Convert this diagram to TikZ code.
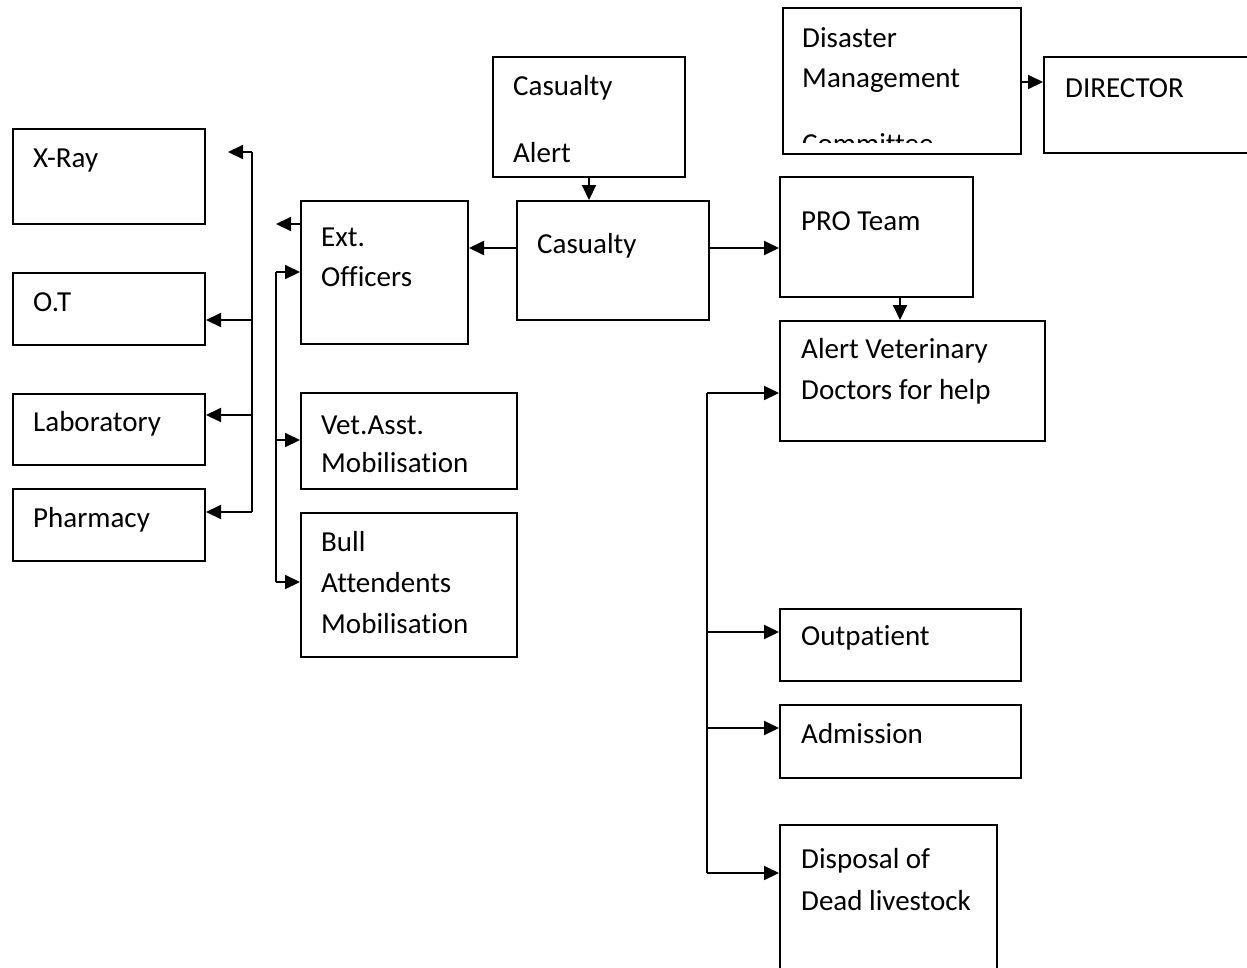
\documentclass[tikz,border=0pt]{standalone}
\usepackage{fontspec}
\setmainfont{Carlito}[Ligatures={NoCommon}]
\usetikzlibrary{arrows.meta}
\begin{document}
\begin{tikzpicture}[x=1pt,y=-1pt,
  box/.style={draw,line width=2pt,rectangle,inner sep=0pt,anchor=north west},
  txt/.style={anchor=base west,inner sep=0pt,font=\fontsize{29}{41}\selectfont},
  wire/.style={line width=2pt},
  arr/.style={line width=2pt,-{Triangle[length=15pt,width=14pt]}}]
\clip (0,0) rectangle (1247,967);
\fill[white] (0,0) rectangle (1247,967);

% boxes: left column
\node[box,minimum width=192pt,minimum height=95pt] (xray) at (12,128) {};
\node[box,minimum width=192pt,minimum height=72pt] (ot) at (12,272) {};
\node[box,minimum width=192pt,minimum height=71pt] (lab) at (12,393) {};
\node[box,minimum width=192pt,minimum height=72pt] (pharm) at (12,488) {};
% boxes: middle column
\node[box,minimum width=167pt,minimum height=143pt] (ext) at (300,200) {};
\node[box,minimum width=216pt,minimum height=96pt] (vet) at (300,392) {};
\node[box,minimum width=216pt,minimum height=144pt] (bull) at (300,512) {};
\node[box,minimum width=192pt,minimum height=120pt] (alert) at (492,56) {};
\node[box,minimum width=192pt,minimum height=119pt] (cas) at (516,200) {};
% boxes: right column
\node[box,minimum width=238pt,minimum height=146pt] (dm) at (782,7) {};
\node[box,minimum width=220pt,minimum height=96pt] (dir) at (1043,56) {};
\node[box,minimum width=193pt,minimum height=120pt] (pro) at (779,176) {};
\node[box,minimum width=265pt,minimum height=120pt] (avd) at (779,320) {};
\node[box,minimum width=241pt,minimum height=72pt] (outp) at (779,608) {};
\node[box,minimum width=241pt,minimum height=73pt] (adm) at (779,704) {};
\node[box,minimum width=217pt,minimum height=160pt] (disp) at (779,824) {};

% labels
\node[txt] (xrayT) at (33,167) {X-Ray};
\node[txt] (otT) at (33,311) {O.T};
\node[txt] (labT) at (33,431) {Laboratory};
\node[txt] (pharmT) at (33,527) {Pharmacy};
\node[txt] (extT1) at (321,246) {Ext.};
\node[txt] (extT2) at (321,286) {Officers};
\node[txt] (vetT1) at (321,434) {Vet.Asst.};
\node[txt] (vetT2) at (321,472) {Mobilisation};
\node[txt] (bullT1) at (321,551) {Bull};
\node[txt] (bullT2) at (321,592) {Attendents};
\node[txt] (bullT3) at (321,633) {Mobilisation};
\node[txt] (alertT1) at (513,95) {Casualty};
\node[txt] (alertT2) at (513,162) {Alert};
\node[txt] (casT) at (537,253) {Casualty};
\node[txt] (dmT1) at (802,47) {Disaster};
\node[txt] (dmT2) at (802,87) {Management};
\begin{scope}
  \clip (782,7) rectangle (1020,142);
  \node[txt] (dmT3) at (802,153) {Committee};
\end{scope}
\node[txt] (dirT) at (1065,97) {DIRECTOR};
\node[txt] (proT) at (801,230) {PRO Team};
\node[txt] (avdT1) at (801,358) {Alert Veterinary};
\node[txt] (avdT2) at (801,399) {Doctors for help};
\node[txt] (outpT) at (801,645) {Outpatient};
\node[txt] (admT) at (801,743) {Admission};
\node[txt] (dispT1) at (801,868) {Disposal of};
\node[txt] (dispT2) at (801,910) {Dead livestock};

% junction points
\coordinate (lbTop) at (252,152);
\coordinate (lbOT) at (252,320);
\coordinate (lbLab) at (252,415);
\coordinate (lbPh) at (252,512);
\coordinate (xrTip) at (228,152);
\coordinate (mbTop) at (276,272);
\coordinate (mbVet) at (276,440);
\coordinate (mbBull) at (276,582);
\coordinate (extOut) at (300,224);
\coordinate (extTip) at (276,224);
\coordinate (rbTop) at (707,393);
\coordinate (rbOut) at (707,632);
\coordinate (rbAdm) at (707,728);
\coordinate (rbDisp) at (707,873);
\coordinate (casY) at (0,248);
\coordinate (proX) at (900,0);
\coordinate (dmY) at (0,82);

% left bus
\draw[wire] (lbTop) -- (lbPh);
\draw[arr] (lbTop) -- (xrTip);
\draw[arr] (lbOT) -- (lbOT -| ot.east);
\draw[arr] (lbLab) -- (lbLab -| lab.east);
\draw[arr] (lbPh) -- (lbPh -| pharm.east);

% middle bus
\draw[arr] (extOut) -- (extTip);
\draw[wire] (mbTop) -- (mbBull);
\draw[arr] (mbTop) -- (mbTop -| ext.west);
\draw[arr] (mbVet) -- (mbVet -| vet.west);
\draw[arr] (mbBull) -- (mbBull -| bull.west);

% casualty links
\draw[arr] (alert.south) -- (alert.south |- cas.north);
\draw[arr] (cas.west |- casY) -- (ext.east |- casY);
\draw[arr] (cas.east |- casY) -- (pro.west |- casY);
\draw[arr] (pro.south -| proX) -- (avd.north -| proX);
\draw[arr] (dm.east |- dmY) -- (dir.west |- dmY);

% right bus
\draw[wire] (rbTop) -- (rbDisp);
\draw[arr] (rbTop) -- (rbTop -| avd.west);
\draw[arr] (rbOut) -- (rbOut -| outp.west);
\draw[arr] (rbAdm) -- (rbAdm -| adm.west);
\draw[arr] (rbDisp) -- (rbDisp -| disp.west);
\end{tikzpicture}
\end{document}
